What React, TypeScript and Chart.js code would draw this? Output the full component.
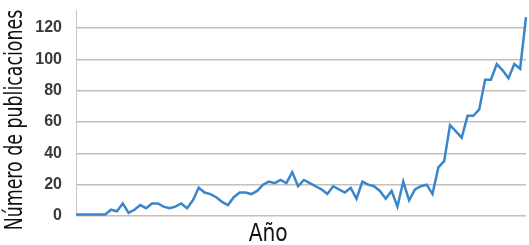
import React, { useEffect, useRef } from "react";
import { Chart, registerables } from "chart.js";

Chart.register(...registerables);

const years: string[] = Array.from({ length: 78 }, (_, i) => String(1939 + i));

const publicaciones: number[] = [
  1, 1, 1, 1, 1, 1, 4, 3, 8, 2,
  4, 7, 5, 8, 8, 6, 5, 6, 8, 5,
  10, 18, 15, 14, 12, 9, 7, 12, 15, 15,
  14, 16, 20, 22, 21, 23, 21, 28, 19, 23,
  21, 19, 17, 14, 19, 17, 15, 18, 11, 22,
  20, 19, 16, 11, 16, 6, 22, 10, 17, 19,
  20, 14, 31, 35, 58, 54, 50, 64, 64, 68,
  87, 87, 97, 93, 88, 97, 94, 127,
];

const yTicks: number[] = [0, 20, 40, 60, 80, 100, 120];

const yTitle = "Número de publicaciones";
const xTitle = "Año";

const titleFont = "'Liberation Sans Narrow', 'DejaVu Sans Condensed', 'Liberation Sans', sans-serif";

export default function App() {
  const ref = useRef<HTMLCanvasElement | null>(null);

  useEffect(() => {
    if (!ref.current) return;
    const titlesPlugin = {
      id: "titlesPlugin",
      afterDraw(chart: any) {
        const { ctx, chartArea } = chart;
        const h = chart.height;
        // x title (condensed)
        ctx.save();
        ctx.font = `24px ${titleFont}`;
        ctx.fillStyle = "#111111";
        ctx.textAlign = "center";
        ctx.textBaseline = "alphabetic";
        const cx = chartArea.left + (chartArea.right - chartArea.left) * 0.427;
        const wx = ctx.measureText(xTitle).width;
        const sx = Math.min(1, 39 / wx);
        ctx.translate(cx, chartArea.bottom + 25);
        ctx.scale(sx, 1);
        ctx.fillText(xTitle, 0, 0);
        ctx.restore();
        // y title (rotated, condensed)
        ctx.save();
        ctx.font = `24px ${titleFont}`;
        ctx.fillStyle = "#111111";
        ctx.textAlign = "center";
        ctx.textBaseline = "middle";
        const wy = ctx.measureText(yTitle).width;
        const sy = Math.min(1, (h * 0.9) / wy);
        ctx.translate(16, h * 0.49);
        ctx.rotate(-Math.PI / 2);
        ctx.scale(sy, 1);
        ctx.fillText(yTitle, 0, 0);
        ctx.restore();
      },
    };
    const chart = new Chart(ref.current, {
      type: "line",
      data: {
        labels: years,
        datasets: [
          {
            data: publicaciones,
            borderColor: "#3b86cb",
            borderWidth: 2.5,
            pointRadius: 0,
            tension: 0,
            fill: false,
          },
        ],
      },
      options: {
        animation: false,
        responsive: false,
        layout: { padding: { top: 10, right: 3, bottom: 29, left: 0 } },
        plugins: {
          legend: { display: false },
          tooltip: { enabled: false },
        },
        scales: {
          x: {
            type: "category",
            display: false,
          },
          y: {
            min: 0,
            max: 131.5,
            afterBuildTicks: (scale: any) => {
              scale.ticks = yTicks.map((v) => ({ value: v }));
            },
            afterFit: (scale: any) => {
              scale.width = 76;
              scale.paddingTop = 0;
              scale.paddingBottom = 0;
            },
            grid: {
              color: "rgba(190,178,170,0.85)",
              lineWidth: 1.5,
              drawTicks: false,
            },
            border: { display: true, color: "rgba(200,192,188,0.9)", width: 1 },
            ticks: {
              padding: 14,
              color: "#3a3a3a",
              font: { family: "'Liberation Sans', Arial, sans-serif", size: 16, weight: "bold" },
            },
          },
        },
      },
      plugins: [titlesPlugin],
    });
    return () => chart.destroy();
  }, []);

  return (
    <div style={{ position: "absolute", left: 0, top: 0, width: 529, height: 245, background: "#ffffff" }}>
      <canvas ref={ref} width={529} height={245} style={{ display: "block" }} />
    </div>
  );
}
